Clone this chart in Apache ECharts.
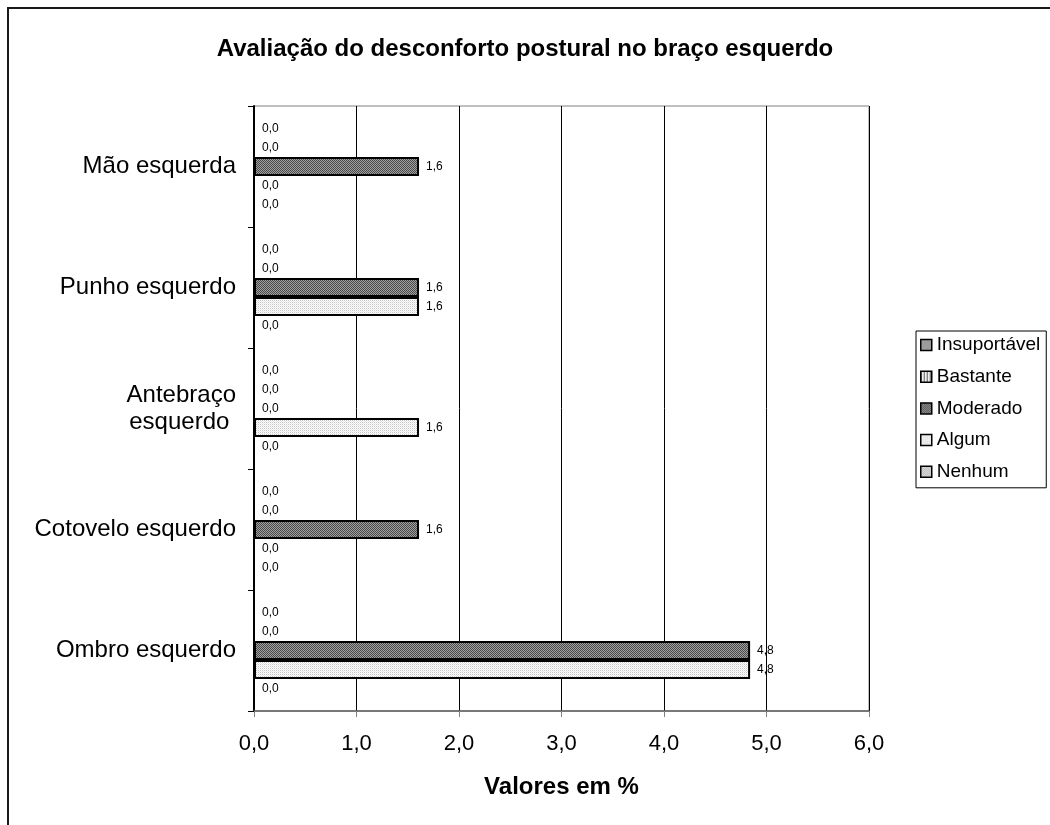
<!DOCTYPE html>
<html><head><meta charset="utf-8">
<script src="https://cdn.jsdelivr.net/npm/echarts@6/dist/echarts.min.js"></script>
<style>html,body{margin:0;padding:0;background:#fff}#c{width:1050px;height:825px}</style>
</head><body><div id="c"></div>
<script>
// Data (categories bottom to top as ECharts draws a y category axis)
const categories = ['Ombro esquerdo', 'Cotovelo esquerdo', 'Antebraço\nesquerdo ', 'Punho esquerdo', 'Mão esquerda'];
const seriesNames = ['Insuportável', 'Bastante', 'Moderado', 'Algum', 'Nenhum'];
const insuportavel = [0.0, 0.0, 0.0, 0.0, 0.0];
const bastante = [0.0, 0.0, 0.0, 0.0, 0.0];
const moderado = [4.84, 1.61, 0.0, 1.61, 1.61];
const algum = [4.84, 0.0, 1.61, 1.61, 0.0];
const nenhum = [0.0, 0.0, 0.0, 0.0, 0.0];
const xTicks = [0, 1, 2, 3, 4, 5, 6];

function tile(w, h, draw) {
  const c = document.createElement('canvas');
  c.width = w; c.height = h;
  const g = c.getContext('2d');
  draw(g);
  return { image: c, repeat: 'repeat' };
}
const patInsup = tile(4, 4, g => { g.fillStyle = '#c8c8c8'; g.fillRect(0,0,4,4); g.fillStyle = '#707070'; for (let i=0;i<4;i++){ g.fillRect(i,i,1,1); g.fillRect((i+2)%4,i,1,1);} });
const patBast = tile(3, 1, g => { g.fillStyle = '#f0f0f0'; g.fillRect(0,0,3,1); g.fillStyle = '#606060'; g.fillRect(0,0,1,1); });
const patMod = tile(4, 4, g => { g.fillStyle = '#a0a0a0'; g.fillRect(0,0,4,4); g.fillStyle = '#4a4a4a'; for (let i=0;i<4;i++){ g.fillRect(i,i,1,1); g.fillRect((i+2)%4,i,1,1);} });
const patAlg = tile(2, 2, g => { g.fillStyle = '#ffffff'; g.fillRect(0,0,2,2); g.fillStyle = '#c4c4c4'; g.fillRect(0,0,1,1); g.fillStyle = '#e6e6e6'; g.fillRect(1,1,1,1); });
const patNen = tile(2, 2, g => { g.fillStyle = '#ffffff'; g.fillRect(0,0,2,2); g.fillStyle = '#999999'; g.fillRect(0,0,1,1); g.fillRect(1,1,1,1); });

const fmt = v => Number(v).toFixed(1).replace('.', ',');
const FONT = 'Arial, "Liberation Sans", sans-serif';

function mk(name, data, color) {
  return {
    name: name, type: 'bar', data: data, barWidth: 19, barGap: '0%',
    itemStyle: { color: color, borderColor: '#000', borderWidth: 2 },
    label: { show: true, position: 'right', distance: 7, fontSize: 12, color: '#000', fontFamily: FONT,
             formatter: p => fmt(p.value) },
    emphasis: { disabled: true }
  };
}

const chart = echarts.init(document.getElementById('c'), null, { renderer: 'canvas' });
chart.setOption({
  animation: false,
  backgroundColor: '#fff',
  graphic: [{ type: 'rect', shape: { x: 8, y: 8, width: 1100, height: 900 }, style: { fill: 'none', stroke: '#1a1a1a', lineWidth: 2 }, z: 100, silent: true }],
  title: { text: 'Avaliação do desconforto postural no braço esquerdo', left: 'center', top: 32,
           textStyle: { fontFamily: FONT, fontSize: 24, fontWeight: 'bold', color: '#000' } },
  legend: {
    orient: 'vertical', left: 916, top: 331, padding: [4, 6, 6, 4],
    data: seriesNames, itemWidth: 11, itemHeight: 11, itemGap: 11.7,
    borderColor: '#000', borderWidth: 1, icon: 'rect',
    itemStyle: { borderColor: '#000', borderWidth: 1.5 },
    textStyle: { fontFamily: FONT, fontSize: 19, color: '#000', lineHeight: 20 }
  },
  grid: { left: 254, right: 181, top: 106, bottom: 114, show: true, borderColor: '#808080', borderWidth: 1, containLabel: false },
  xAxis: {
    type: 'value', min: xTicks[0], max: xTicks[xTicks.length - 1], interval: 1,
    name: 'Valores em %', nameLocation: 'middle', nameGap: 64,
    nameTextStyle: { fontFamily: FONT, fontSize: 24, fontWeight: 'bold', color: '#000' },
    axisLine: { show: true, lineStyle: { color: '#606060', width: 1.5 } },
    axisTick: { show: true, length: 6, inside: false, lineStyle: { color: '#808080' } },
    splitLine: { show: true, lineStyle: { color: '#000', width: 1 } },
    axisLabel: { formatter: fmt, fontFamily: FONT, fontSize: 22, color: '#000', margin: 22 }
  },
  yAxis: {
    type: 'category', data: categories,
    axisLine: { show: true, lineStyle: { color: '#000', width: 2 } },
    axisTick: { show: true, length: 6, inside: false, alignWithLabel: false, lineStyle: { color: '#000' } },
    axisLabel: { fontFamily: FONT, fontSize: 24, color: '#000', margin: 18, lineHeight: 27, align: 'right' },
    splitLine: { show: false }
  },
  series: [
    mk(seriesNames[0], insuportavel, patInsup),
    mk(seriesNames[1], bastante, patBast),
    mk(seriesNames[2], moderado, patMod),
    mk(seriesNames[3], algum, patAlg),
    mk(seriesNames[4], nenhum, patNen)
  ]
});
</script></body></html>
